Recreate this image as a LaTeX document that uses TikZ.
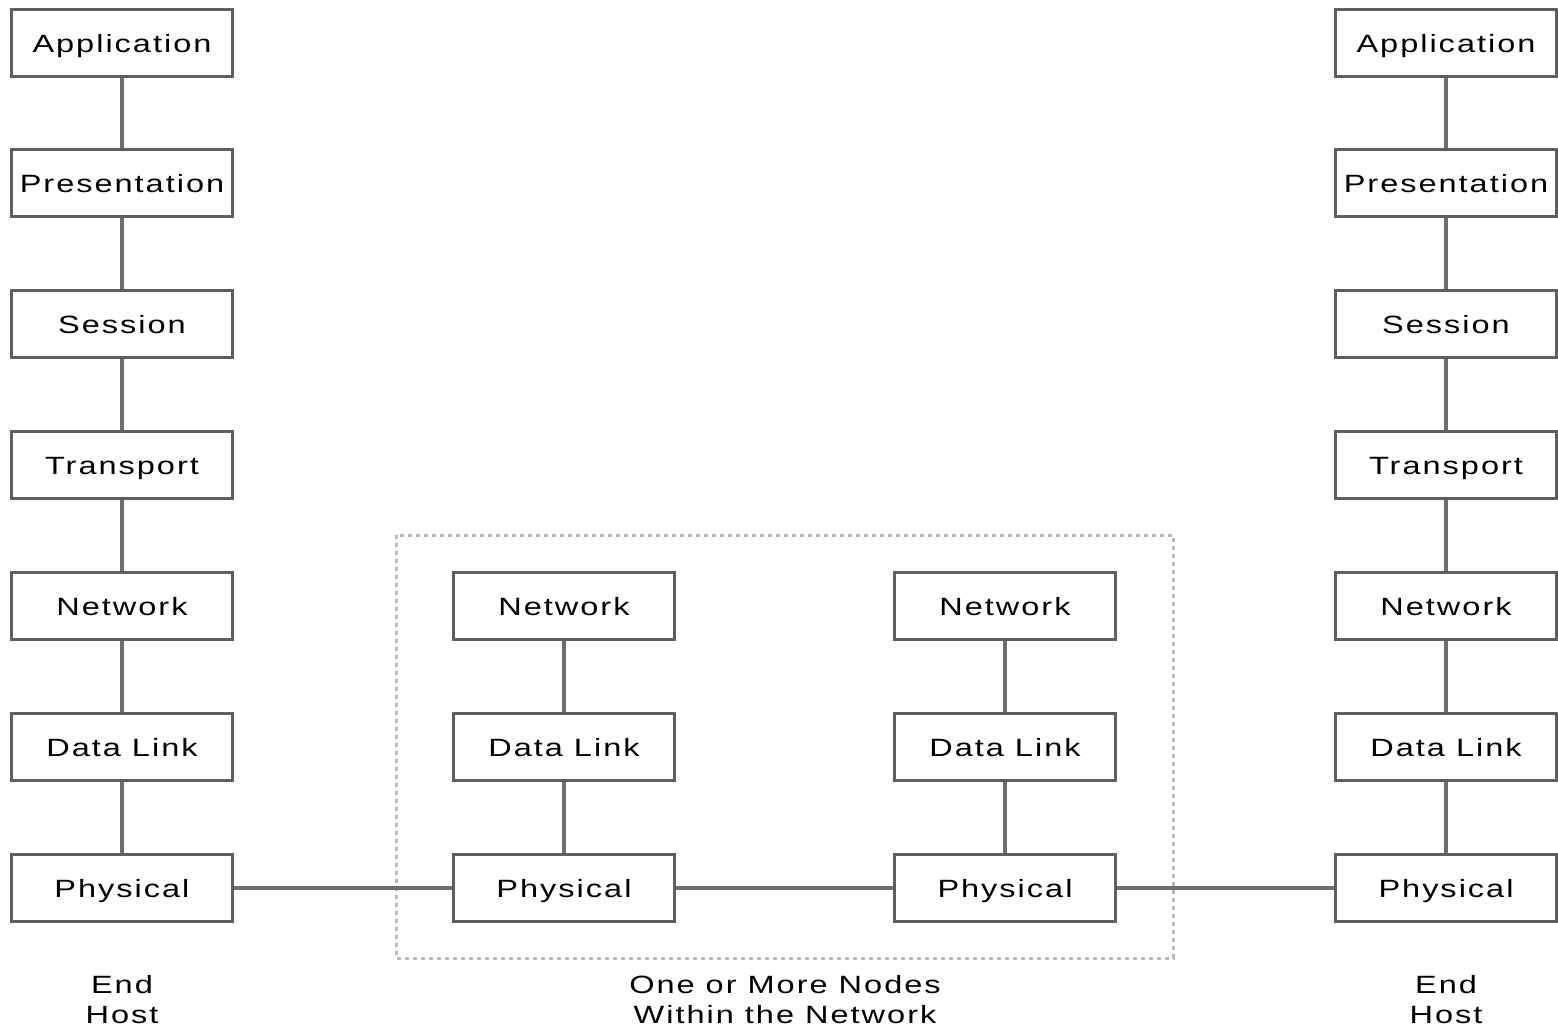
\documentclass[tikz,border=0pt]{standalone}
\usepackage{fontspec}
\setmainfont[LetterSpace=8,FakeStretch=1.3]{Liberation Sans}
\definecolor{boxgray}{HTML}{5E5E5E}
\definecolor{linegray}{HTML}{6E6E6E}
\definecolor{dotgray}{HTML}{B8B8B8}
\begin{document}
\begin{tikzpicture}[x=1pt,y=-1pt,
  layer/.style={draw=boxgray, line width=3pt, fill=white, minimum width=221pt, minimum height=67pt,
    inner sep=0pt, text height=18pt, text depth=0pt, font=\fontsize{25}{30}\selectfont},
  conn/.style={draw=linegray, line width=3.5pt},
  caption/.style={align=center, inner sep=0pt, font=\fontsize{25}{30}\selectfont},
  dotbox/.style={draw=dotgray, line width=3pt, dash pattern=on 4pt off 4pt}]
\useasboundingbox (0,0) rectangle (1558,1028);
\draw[dotbox] (396,535) rectangle (1173,958);
% left end host
\node[layer] (la) at (122,43) {Application};
\node[layer] (lp) at (122,183) {Presentation};
\node[layer] (ls) at (122,324) {Session};
\node[layer] (lt) at (122,465) {Transport};
\node[layer] (ln) at (122,606) {Network};
\node[layer] (ld) at (122,747) {Data Link};
\node[layer] (lph) at (122,888) {Physical};
% right end host
\node[layer] (ra) at (1446,43) {Application};
\node[layer] (rp) at (1446,183) {Presentation};
\node[layer] (rs) at (1446,324) {Session};
\node[layer] (rt) at (1446,465) {Transport};
\node[layer] (rn) at (1446,606) {Network};
\node[layer] (rd) at (1446,747) {Data Link};
\node[layer] (rph) at (1446,888) {Physical};
% middle nodes
\node[layer] (an) at (564,606) {Network};
\node[layer] (ad) at (564,747) {Data Link};
\node[layer] (aph) at (564,888) {Physical};
\node[layer] (bn) at (1005,606) {Network};
\node[layer] (bd) at (1005,747) {Data Link};
\node[layer] (bph) at (1005,888) {Physical};
% connectors
\draw[conn] (la) -- (lp); \draw[conn] (lp) -- (ls); \draw[conn] (ls) -- (lt);
\draw[conn] (lt) -- (ln); \draw[conn] (ln) -- (ld); \draw[conn] (ld) -- (lph);
\draw[conn] (ra) -- (rp); \draw[conn] (rp) -- (rs); \draw[conn] (rs) -- (rt);
\draw[conn] (rt) -- (rn); \draw[conn] (rn) -- (rd); \draw[conn] (rd) -- (rph);
\draw[conn] (an) -- (ad); \draw[conn] (ad) -- (aph);
\draw[conn] (bn) -- (bd); \draw[conn] (bd) -- (bph);
\draw[conn] (lph) -- (aph); \draw[conn] (aph) -- (bph); \draw[conn] (bph) -- (rph);
% captions
\node[caption] (lcap) at (122,1000) {End\\Host};
\node[caption] (mcap) at (785,1000) {One or More Nodes\\Within the Network};
\node[caption] (rcap) at (1446,1000) {End\\Host};
\end{tikzpicture}
\end{document}
